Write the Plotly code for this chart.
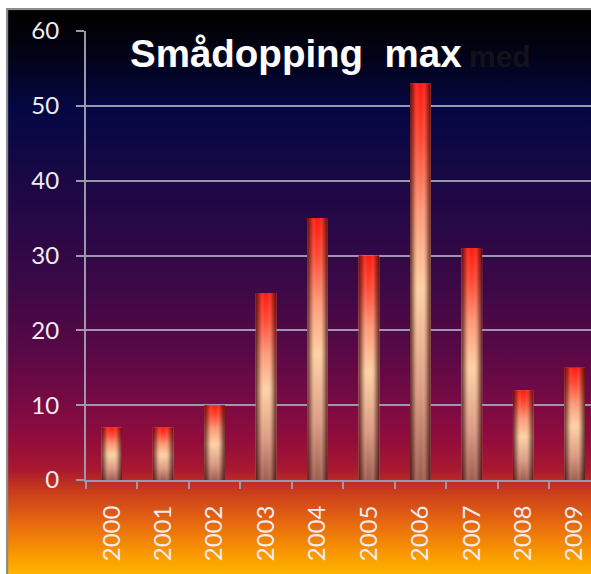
import plotly.graph_objects as go
import urllib.parse

years = ["2000", "2001", "2002", "2003", "2004", "2005", "2006", "2007", "2008", "2009"]
values = [7, 7, 10, 25, 35, 30, 53, 31, 12, 15]
y_ticks = [0, 10, 20, 30, 40, 50, 60]
title_text = "Smådopping  max"
hidden_text = "med"

W, H = 591, 574
L, R, T, B = 86, 0, 31, 94
pw, ph = W - L - R, H - T - B
bar_w = 0.4
xs = list(range(len(years)))
x_range = [-0.5, 9.317]

# background gradient (svg data uri), defined in page-y coordinates
top_page, bot_page = 9, 574
bg_page = [
    (9, "#000000"), (28, "#010106"), (60, "#02031a"), (110, "#040744"), (170, "#160844"),
    (230, "#2a0846"), (290, "#3e0846"), (350, "#580846"), (400, "#760a44"), (440, "#920c3c"),
    (470, "#a81830"), (490, "#c83a1c"), (520, "#e46410"), (550, "#f89200"), (574, "#ffb400"),
]
stops = "".join(
    f'<stop offset="{(y - top_page) / (bot_page - top_page):.4f}" stop-color="{c}"/>' for y, c in bg_page
)
svg = (
    '<svg xmlns="http://www.w3.org/2000/svg" width="600" height="600" viewBox="0 0 600 600" preserveAspectRatio="none">'
    f'<defs><linearGradient id="g" x1="0" y1="0" x2="0" y2="1">{stops}</linearGradient></defs>'
    '<rect x="0" y="0" width="600" height="600" fill="url(#g)"/>'
    '<rect x="1" y="1" width="620" height="620" fill="none" stroke="#8c8c8c" stroke-width="2.5"/>'
    '</svg>'
)
src = "data:image/svg+xml;charset=utf-8," + urllib.parse.quote(svg)

bx0, by0 = 6, top_page - 1
img_x = (bx0 - L) / pw
img_y = (H - B - by0) / ph
img_sx = (W - bx0) / pw
img_sy = (H - by0) / ph

fig = go.Figure()

fig.add_trace(go.Bar(x=xs, y=values, width=bar_w, marker=dict(color="#f09080", line=dict(width=0)),
                     hoverinfo="skip", showlegend=False))

vert_cs = [[0.0, "#a06050"], [0.22, "#dc9c84"], [0.48, "#ffd2a4"], [0.68, "#ff9a78"],
           [0.86, "#ff4a34"], [1.0, "#ff1c12"]]
horiz_cs = [[0.0, "rgba(55,12,12,0.80)"], [0.18, "rgba(80,25,25,0.35)"], [0.42, "rgba(255,255,255,0)"],
            [0.58, "rgba(255,255,255,0)"], [0.82, "rgba(80,25,25,0.35)"], [1.0, "rgba(55,12,12,0.80)"]]

for xi, v in zip(xs, values):
    px = [xi - bar_w / 2, xi + bar_w / 2, xi + bar_w / 2, xi - bar_w / 2, xi - bar_w / 2]
    py = [0, 0, v, v, 0]
    fig.add_trace(go.Scatter(x=px, y=py, mode="lines", fill="toself", line=dict(width=0),
                             fillgradient=dict(type="vertical", colorscale=vert_cs),
                             hoverinfo="skip", showlegend=False))
    fig.add_trace(go.Scatter(x=px, y=py, mode="lines", fill="toself", line=dict(width=0),
                             fillgradient=dict(type="horizontal", colorscale=horiz_cs),
                             hoverinfo="skip", showlegend=False))

grid = "#9a98ac"
lbl = "#f2ecf2"
fig.update_layout(
    width=W, height=H,
    margin=dict(l=L, r=R, t=T, b=B, pad=0),
    paper_bgcolor="white",
    plot_bgcolor="rgba(0,0,0,0)",
    showlegend=False,
    images=[dict(source=src, xref="paper", yref="paper", x=img_x, y=img_y,
                 sizex=img_sx, sizey=img_sy, xanchor="left", yanchor="top",
                 sizing="stretch", layer="below")],
    xaxis=dict(range=x_range, tickmode="array", tickvals=xs, ticktext=years, tickangle=-90,
               ticks="", ticklabelstandoff=14, showgrid=False, zeroline=False,
               showline=True, linecolor=grid, linewidth=2,
               tickfont=dict(family="Lato", size=24, color=lbl),
               minor=dict(tickmode="array", tickvals=[i - 0.5 for i in range(len(years) + 1)],
                          ticks="outside", ticklen=7, tickwidth=2, tickcolor=grid, showgrid=False)),
    yaxis=dict(range=[0, 60], tickmode="array", tickvals=y_ticks, ticks="outside", ticklen=8,
               tickwidth=2, tickcolor=grid, showgrid=True, gridcolor=grid, gridwidth=2,
               zeroline=False, showline=True, linecolor=grid, linewidth=2,
               ticklabelstandoff=12,
               tickfont=dict(family="Lato", size=24, color=lbl)),
    annotations=[
        dict(text=title_text, xref="paper", yref="paper", x=(128 - L) / pw,
             y=(H - B - 54) / ph,
             xanchor="left", yanchor="middle", showarrow=False,
             font=dict(family="Liberation Sans", size=38.5, color="white", weight="bold")),
        dict(text=hidden_text, xref="paper", yref="paper", x=(467 - L) / pw,
             y=(H - B - 56) / ph,
             xanchor="left", yanchor="middle", showarrow=False,
             font=dict(family="Liberation Sans", size=30, color="#121218", weight="bold")),
    ],
)

fig.write_html(
    "out.html",
    config={"displayModeBar": False},
    post_script="document.body.style.margin='0';document.body.style.overflow='hidden';",
)
